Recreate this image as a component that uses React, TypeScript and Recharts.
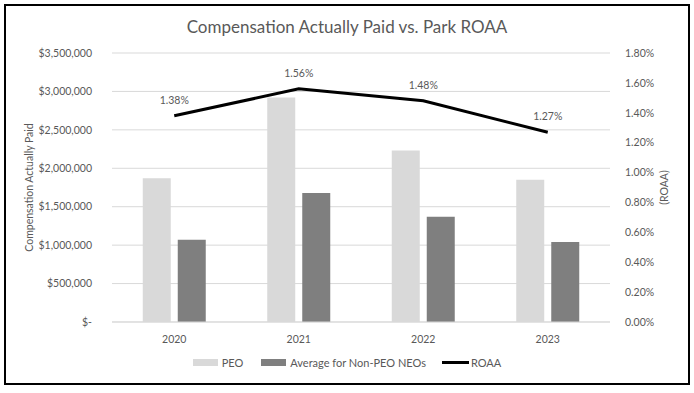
import React from 'react';
import { ComposedChart, Bar, Line, XAxis, YAxis, CartesianGrid, LabelList, Label } from 'recharts';

const years = ['2020', '2021', '2022', '2023'];
const peoPaid = [1870000, 2920000, 2230000, 1850000];
const neoAvgPaid = [1070000, 1680000, 1370000, 1040000];
const roaa = [1.38, 1.56, 1.48, 1.27];
const leftTicks = [0, 500000, 1000000, 1500000, 2000000, 2500000, 3000000, 3500000];
const rightTicks = [0, 0.2, 0.4, 0.6, 0.8, 1.0, 1.2, 1.4, 1.6, 1.8];

const data = years.map((y, i) => ({ year: y, peo: peoPaid[i], neo: neoAvgPaid[i], roaa: roaa[i] }));

const FONT = 'Lato, "Open Sans", sans-serif';
const TEXT = '#595959';
const FS = 10.5;

const fmtMoney = (v: number) => (v === 0 ? '$-' : '$' + v.toLocaleString('en-US'));
const fmtPct = (v: number) => v.toFixed(2) + '%';

const LegendRow = () => (
  <div
    style={{
      position: 'absolute',
      top: 356,
      left: 0,
      width: 694,
      display: 'flex',
      justifyContent: 'center',
      alignItems: 'center',
      fontFamily: FONT,
      fontSize: 11,
      color: TEXT,
    }}
  >
    <span style={{ display: 'inline-block', width: 25, height: 7, background: '#d9d9d9', marginRight: 4 }} />
    <span style={{ marginRight: 18 }}>PEO</span>
    <span style={{ display: 'inline-block', width: 25, height: 7, background: '#7f7f7f', marginRight: 4 }} />
    <span style={{ marginRight: 16 }}>Average for Non-PEO NEOs</span>
    <span style={{ display: 'inline-block', width: 27, height: 3, background: '#000', marginRight: 2 }} />
    <span>ROAA</span>
  </div>
);

export default function App() {
  return (
    <div style={{ position: 'absolute', left: 0, top: 0, width: 694, height: 393, background: '#fff' }}>
      <div
        style={{
          position: 'absolute',
          left: 4,
          top: 4,
          width: 682,
          height: 377,
          border: '2px solid #000',
        }}
      />
      <div
        style={{
          position: 'absolute',
          top: 16,
          left: 0,
          width: 694,
          textAlign: 'center',
          fontFamily: FONT,
          fontSize: 17,
          color: TEXT,
        }}
      >
        Compensation Actually Paid vs. Park ROAA
      </div>
      <div style={{ position: 'absolute', left: 0, top: 0 }}>
        <ComposedChart
          width={694}
          height={393}
          data={data}
          margin={{ top: 53, right: 24, bottom: 41, left: 20 }}
          barCategoryGap="24.7%"
          barGap={7}
        >
          <CartesianGrid vertical={false} stroke="#d9d9d9" yAxisId="left" />
          <XAxis
            dataKey="year"
            axisLine={{ stroke: '#d9d9d9' }}
            tickLine={false}
            height={30}
            tick={{ fill: TEXT, fontSize: FS, fontFamily: FONT }}
            tickMargin={8}
          />
          <YAxis
            yAxisId="left"
            width={92}
            domain={[0, 3500000]}
            ticks={leftTicks}
            tickFormatter={fmtMoney}
            axisLine={false}
            tickLine={false}
            tickMargin={14}
            tick={{ fill: TEXT, fontSize: FS, fontFamily: FONT }}
          >
            <Label
              content={({ viewBox }: any) => (
                <text
                  x={30}
                  y={viewBox.y + viewBox.height / 2}
                  transform={`rotate(-90, 30, ${viewBox.y + viewBox.height / 2})`}
                  textAnchor="middle"
                  dominantBaseline="middle"
                  fill={TEXT}
                  fontSize={FS}
                  fontFamily={FONT}
                >
                  Compensation Actually Paid
                </text>
              )}
            />
          </YAxis>
          <YAxis
            yAxisId="right"
            orientation="right"
            width={60}
            domain={[0, 1.8]}
            ticks={rightTicks}
            tickFormatter={fmtPct}
            axisLine={false}
            tickLine={false}
            tickMargin={9}
            tick={{ fill: TEXT, fontSize: FS, fontFamily: FONT, textAnchor: 'start' }}
          >
            <Label
              content={({ viewBox }: any) => (
                <text
                  x={665}
                  y={viewBox.y + viewBox.height / 2}
                  transform={`rotate(-90, 665, ${viewBox.y + viewBox.height / 2})`}
                  textAnchor="middle"
                  dominantBaseline="middle"
                  fill={TEXT}
                  fontSize={FS}
                  fontFamily={FONT}
                >
                  (ROAA)
                </text>
              )}
            />
          </YAxis>
          <Bar yAxisId="left" dataKey="peo" name="PEO" fill="#d9d9d9" isAnimationActive={false} />
          <Bar yAxisId="left" dataKey="neo" name="Average for Non-PEO NEOs" fill="#7f7f7f" isAnimationActive={false} />
          <Line
            yAxisId="right"
            dataKey="roaa"
            name="ROAA"
            stroke="#000"
            strokeWidth={3}
            dot={false}
            activeDot={false}
            isAnimationActive={false}
          >
            <LabelList
              dataKey="roaa"
              position="top"
              offset={12}
              formatter={(v: any) => fmtPct(Number(v))}
              style={{ fill: TEXT, fontSize: FS, fontFamily: FONT }}
            />
          </Line>
        </ComposedChart>
      </div>
      <LegendRow />
    </div>
  );
}
